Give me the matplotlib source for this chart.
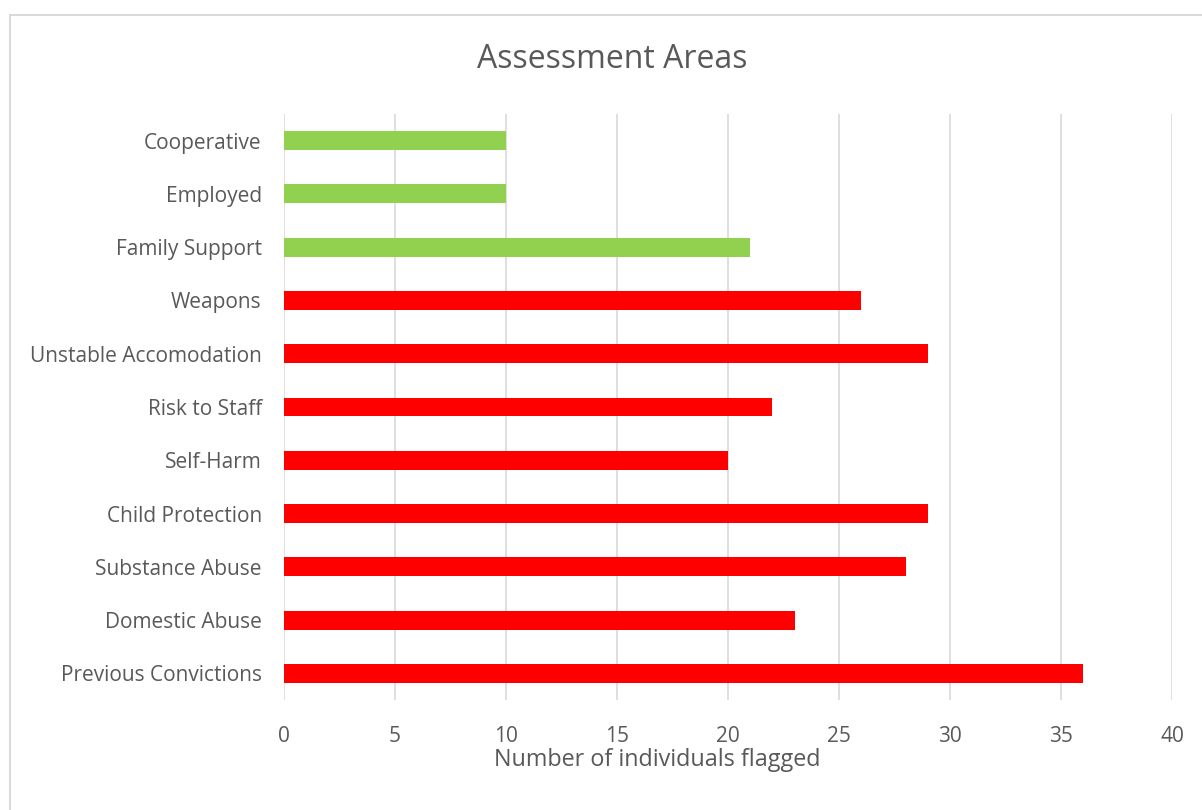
import matplotlib.pyplot as plt
from matplotlib.patches import Rectangle

plt.rcParams['font.family'] = ['Open Sans', 'DejaVu Sans']

categories = ['Previous Convictions', 'Domestic Abuse', 'Substance Abuse', 'Child Protection',
              'Self-Harm', 'Risk to Staff', 'Unstable Accomodation', 'Weapons',
              'Family Support', 'Employed', 'Cooperative']
values = [36, 23, 28, 29, 20, 22, 29, 26, 21, 10, 10]
colours = ['#FF0000'] * 8 + ['#92D050'] * 3
x_ticks = [0, 5, 10, 15, 20, 25, 30, 35, 40]

text_col = '#595959'

fig = plt.figure(figsize=(12.02, 8.10), dpi=100)
ax = fig.add_axes([0.2363, 0.1358, 0.7388, 0.7235])

# chart frame (cut off at right and bottom like the screenshot)
fig.patches.append(Rectangle((10 / 1202, -0.1), 1.2, 1 - 15 / 810 + 0.1,
                             transform=fig.transFigure, fill=False,
                             edgecolor='#D9D9D9', linewidth=1.5))

ax.barh(range(len(categories)), values, height=0.355, color=colours, zorder=3)

ax.set_xlim(0, 40)
ax.set_ylim(-0.5, len(categories) - 0.5)
ax.set_xticks(x_ticks)
ax.set_yticks(range(len(categories)))
ax.set_yticklabels(categories)
ax.tick_params(axis='both', length=0, labelsize=15, colors=text_col)
ax.tick_params(axis='y', pad=16)
ax.tick_params(axis='x', pad=19)
ax.grid(axis='x', color='#D9D9D9', linewidth=1.2, zorder=0)
for s in ax.spines.values():
    s.set_visible(False)

fig.text(657 / 1202, 1 - 760 / 810, 'Number of individuals flagged',
         ha='center', va='center', fontsize=16.8, color=text_col)
fig.text(612 / 1202, 1 - 60 / 810, 'Assessment Areas', ha='center', va='center',
         fontsize=23, color=text_col)

plt.savefig('out.png', dpi=100)
